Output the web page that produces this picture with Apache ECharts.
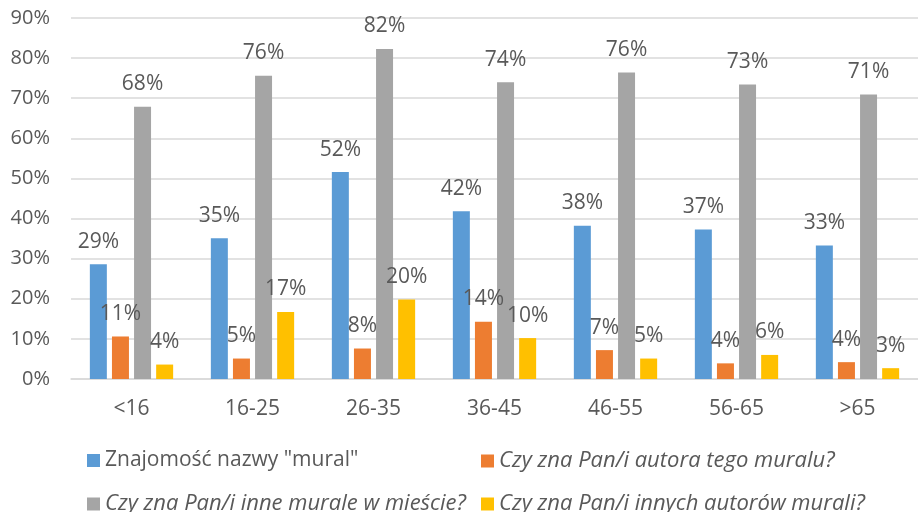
<!DOCTYPE html>
<html>
<head>
<meta charset="utf-8">
<script src="https://cdn.jsdelivr.net/npm/echarts@6/dist/echarts.min.js"></script>
<style>
  html, body { margin: 0; padding: 0; background: #fff; }
  #chart { width: 918px; height: 512px; }
</style>
</head>
<body>
<div id="chart"></div>
<script>
const categories = ["<16", "16-25", "26-35", "36-45", "46-55", "56-65", ">65"];
const seriesNames = [
  'Znajomość nazwy "mural"',
  "Czy zna Pan/i autora tego muralu?",
  "Czy zna Pan/i inne murale w mieście?",
  "Czy zna Pan/i innych autorów murali?"
];
const knowsName = [28.6, 35.1, 51.6, 41.8, 38.2, 37.3, 33.3];
const knowsAuthor = [10.6, 5.1, 7.6, 14.3, 7.2, 3.9, 4.2];
const knowsOtherMurals = [67.9, 75.6, 82.3, 74.0, 76.4, 73.4, 70.9];
const knowsOtherAuthors = [3.6, 16.7, 19.8, 10.2, 5.1, 6.0, 2.7];
const yTicks = [0, 10, 20, 30, 40, 50, 60, 70, 80, 90];

const colors = ["#5B9BD5", "#ED7D31", "#A5A5A5", "#FFC000"];
const font = "'Open Sans', sans-serif";
const textColor = "#595959";

const myChart = echarts.init(document.getElementById("chart"));

const makeSeries = (name, values, i) => ({
  name: name,
  type: "bar",
  data: values,
  barWidth: 17,
  barGap: "30%",
  itemStyle: { color: colors[i] },
  label: {
    show: true,
    position: "top",
    distance: 12,
    formatter: (p) => Math.round(p.value) + "%",
    color: textColor,
    fontFamily: font,
    fontSize: 21
  }
});

// one legend per item so the two-row layout matches
const legendPos = [
  { left: 87, top: 450 },
  { left: 481, top: 450 },
  { left: 87, top: 493 },
  { left: 481, top: 493 }
];

const option = {
  animation: false,
  color: colors,
  grid: { left: 71, top: 18, width: 852, height: 361 },
  legend: seriesNames.map((name, i) => ({
    data: [name],
    left: legendPos[i].left,
    top: legendPos[i].top,
    padding: 0,
    icon: "rect",
    itemWidth: 13,
    itemHeight: 13,
    textStyle: {
      color: textColor,
      fontFamily: font,
      fontSize: i === 0 ? 21 : 22,
      fontStyle: i === 0 ? "normal" : "italic"
    }
  })),
  xAxis: {
    type: "category",
    data: categories,
    axisLine: { lineStyle: { color: "#D9D9D9", width: 1.5 } },
    axisTick: { show: false },
    axisLabel: { color: textColor, fontFamily: font, fontSize: 21, margin: 20 }
  },
  yAxis: {
    type: "value",
    min: yTicks[0],
    max: yTicks[yTicks.length - 1],
    interval: 10,
    axisLine: { show: false },
    axisTick: { show: false },
    splitLine: { lineStyle: { color: "#D9D9D9", width: 1.5 } },
    axisLabel: {
      color: textColor,
      fontFamily: font,
      fontSize: 20,
      margin: 21,
      formatter: (v) => v + "%"
    }
  },
  series: [
    makeSeries(seriesNames[0], knowsName, 0),
    makeSeries(seriesNames[1], knowsAuthor, 1),
    makeSeries(seriesNames[2], knowsOtherMurals, 2),
    makeSeries(seriesNames[3], knowsOtherAuthors, 3)
  ]
};

myChart.setOption(option);
</script>
</body>
</html>
